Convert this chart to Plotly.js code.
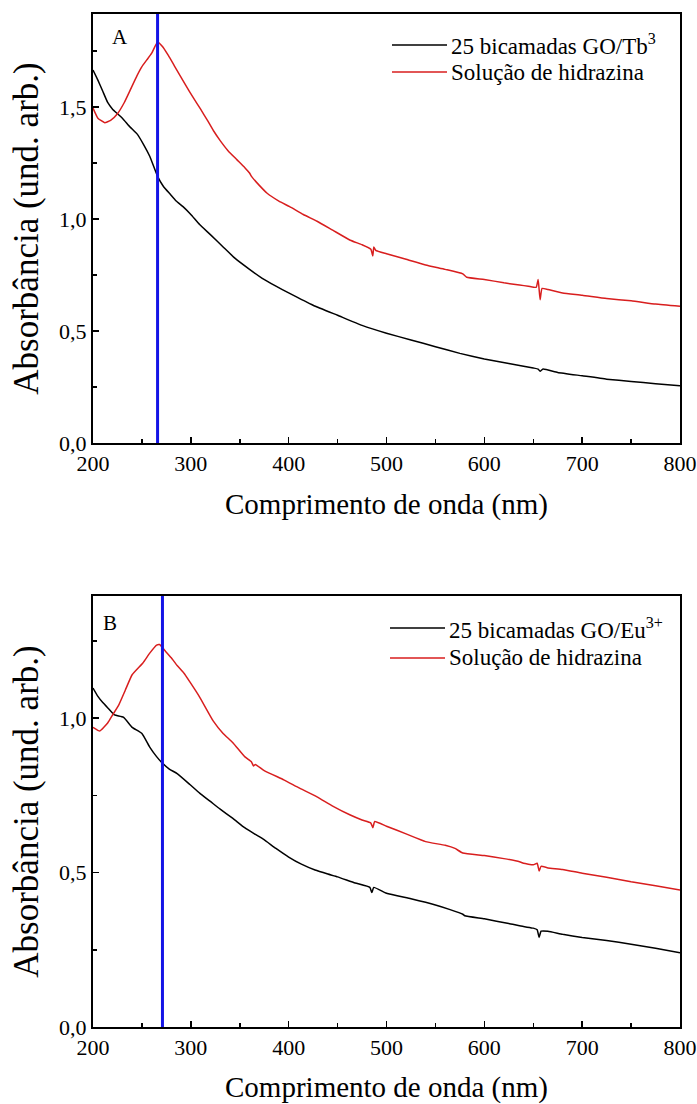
<!DOCTYPE html>
<html>
<head>
<meta charset="utf-8">
<script src="https://cdn.plot.ly/plotly-3.0.1.min.js"></script>
<style>html,body{margin:0;padding:0;background:#fff}#chart{width:697px;height:1104px}</style>
</head>
<body>
<div id="chart"></div>
<script>
// ---- Panel A: 25 bicamadas GO/Tb3 ----
const wlA_black = [200,205,210,215,220,225,230,238,245,252,258,266,272,279,285,292,300,309,320,333,345,360,373,387,400,425,450,475,500,525,550,575,600,625,650,655,657,660,675,700,725,750,775,800];
const absA_black = [1.665,1.62,1.57,1.52,1.49,1.47,1.45,1.41,1.38,1.33,1.28,1.19,1.145,1.11,1.08,1.055,1.02,0.975,0.93,0.875,0.825,0.775,0.735,0.70,0.67,0.615,0.57,0.525,0.49,0.46,0.43,0.40,0.375,0.355,0.335,0.33,0.32,0.33,0.315,0.30,0.285,0.275,0.265,0.255];
const wlA_red = [200,205,212,218,225,232,238,245,250,255,260,266,271,277,283,289,295,302,310,317,323,330,338,347,355,360,362,370,378,390,401,415,429,445,463,475,484,486,487,489,500,520,540,560,578,582,600,620,636,645,653,655,657,659,665,680,700,725,750,775,800];
const absA_red = [1.495,1.45,1.43,1.44,1.47,1.52,1.575,1.64,1.68,1.71,1.74,1.79,1.77,1.73,1.685,1.64,1.595,1.545,1.49,1.44,1.395,1.35,1.305,1.265,1.23,1.205,1.19,1.15,1.115,1.08,1.055,1.02,0.99,0.95,0.905,0.885,0.865,0.835,0.875,0.86,0.845,0.82,0.795,0.775,0.755,0.74,0.73,0.715,0.705,0.70,0.695,0.73,0.64,0.69,0.685,0.67,0.66,0.645,0.635,0.62,0.61];

// ---- Panel B: 25 bicamadas GO/Eu3+ ----
const wlB_black = [200,205,210,216,222,231,240,250,258,265,270,278,286,299,309,320,330,343,355,365,374,387,400,413,427,440,450,468,483,485,487,500,525,550,565,578,580,600,625,640,650,654,656,658,665,680,700,725,750,775,800];
const absB_black = [1.097,1.07,1.05,1.03,1.01,1.003,0.97,0.95,0.906,0.875,0.857,0.835,0.82,0.785,0.757,0.73,0.705,0.675,0.645,0.625,0.608,0.578,0.55,0.527,0.508,0.495,0.486,0.466,0.452,0.435,0.452,0.433,0.415,0.395,0.38,0.365,0.36,0.35,0.335,0.325,0.32,0.315,0.29,0.31,0.31,0.30,0.29,0.28,0.268,0.255,0.24];
const wlB_red = [200,207,215,220,226,233,240,251,258,265,268,273,280,286,293,299,309,323,333,343,355,362,364,366,375,395,410,429,445,463,475,484,486,488,500,520,540,560,570,578,600,620,636,640,650,654,656,658,665,680,700,725,750,775,800];
const absB_red = [0.97,0.958,0.984,1.01,1.04,1.09,1.14,1.178,1.21,1.236,1.238,1.22,1.195,1.17,1.145,1.117,1.068,0.99,0.95,0.92,0.875,0.858,0.845,0.85,0.83,0.80,0.775,0.745,0.715,0.686,0.67,0.66,0.645,0.665,0.65,0.625,0.60,0.588,0.578,0.563,0.555,0.545,0.535,0.53,0.525,0.53,0.505,0.52,0.515,0.51,0.498,0.485,0.47,0.457,0.443];

// vertical reference wavelengths (blue lines) for panels A and B
const markerWavelengths = [266, 271];

const panelLabels = ["A", "B"];
const legendNames = [
  ["25 bicamadas GO/Tb<sup>3</sup>", "Solução de hidrazina"],
  ["25 bicamadas GO/Eu<sup>3+</sup>", "Solução de hidrazina"]
];
const xTitle = "Comprimento de onda (nm)";
const yTitle = "Absorbância (und. arb.)";

const FONT = "'Liberation Serif', 'Times New Roman', serif";
const RED = "#d81e1e";
const BLUE = "#1414e6";

const lineStyle = (c) => ({color: c, width: 1.5, shape: "spline", smoothing: 0.4});
const traces = [
  {x: wlA_black, y: absA_black, xaxis: "x", yaxis: "y", mode: "lines", line: lineStyle("#000"), showlegend: false},
  {x: wlA_red, y: absA_red, xaxis: "x", yaxis: "y", mode: "lines", line: lineStyle(RED), showlegend: false},
  {x: wlB_black, y: absB_black, xaxis: "x2", yaxis: "y2", mode: "lines", line: lineStyle("#000"), showlegend: false},
  {x: wlB_red, y: absB_red, xaxis: "x2", yaxis: "y2", mode: "lines", line: lineStyle(RED), showlegend: false}
];

// plot geometry helpers (pixel -> paper)
const L = 93, R = 17, T = 14, B = 77, W = 697, H = 1104;
const pw = W - L - R, ph = H - T - B;
const px = v => (v - L) / pw;
const py = v => (H - B - v) / ph;

function xa(anchor) {
  return {
    anchor: anchor, range: [200, 800], tick0: 200, dtick: 100,
    ticks: "inside", ticklen: 6, tickwidth: 1.5, tickcolor: "#000",
    minor: {dtick: 50, ticks: "inside", ticklen: 4, tickwidth: 1.5, tickcolor: "#000"},
    showline: true, linewidth: 2, linecolor: "#000", mirror: true,
    showgrid: false, zeroline: false,
    tickfont: {family: FONT, size: 22, color: "#000"},
    title: {text: xTitle, font: {family: FONT, size: 29, color: "#000"}, standoff: 18}
  };
}
function ya(anchor, domain, top) {
  return {
    anchor: anchor, domain: domain, range: [0, top], tick0: 0, dtick: 0.5, tickformat: ".1f",
    ticks: "inside", ticklen: 6, tickwidth: 1.5, tickcolor: "#000",
    minor: {dtick: 0.25, ticks: "inside", ticklen: 4, tickwidth: 1.5, tickcolor: "#000"},
    showline: true, linewidth: 2, linecolor: "#000", mirror: true,
    showgrid: false, zeroline: false,
    tickfont: {family: FONT, size: 22, color: "#000"},
    title: {text: yTitle, font: {family: FONT, size: 35, color: "#000"}, standoff: 10}
  };
}

const shapes = [
  {type: "line", xref: "x", yref: "y domain", x0: markerWavelengths[0], x1: markerWavelengths[0], y0: 0, y1: 1, line: {color: BLUE, width: 3}},
  {type: "line", xref: "x2", yref: "y2 domain", x0: markerWavelengths[1], x1: markerWavelengths[1], y0: 0, y1: 1, line: {color: BLUE, width: 3}}
];
const annotations = [];
const legendRows = [[45, 72], [628, 658]];
const legendLineX = [[392, 447], [390, 445]];
const labelPos = [[120, 37], [110, 623]];
for (let p = 0; p < 2; p++) {
  const colors = ["#000", RED];
  for (let k = 0; k < 2; k++) {
    const yy = py(legendRows[p][k]);
    shapes.push({type: "line", xref: "paper", yref: "paper", x0: px(legendLineX[p][0]), x1: px(legendLineX[p][1]), y0: yy, y1: yy, line: {color: colors[k], width: 1.5}});
    annotations.push({xref: "paper", yref: "paper", x: px(legendLineX[p][1] + 2), y: yy, xanchor: "left", yanchor: "middle", showarrow: false, text: legendNames[p][k], font: {family: FONT, size: 23, color: "#000"}});
  }
  annotations.push({xref: "paper", yref: "paper", x: px(labelPos[p][0]), y: py(labelPos[p][1]), xanchor: "center", yanchor: "middle", showarrow: false, text: panelLabels[p], font: {family: FONT, size: 21, color: "#000"}});
}

const layout = {
  width: W, height: H,
  margin: {l: L, r: R, t: T, b: B},
  paper_bgcolor: "#fff", plot_bgcolor: "#fff",
  separators: ", ",
  showlegend: false,
  font: {family: FONT, color: "#000"},
  xaxis: xa("y"),
  yaxis: ya("x", [py(443), 1], 1.915),
  xaxis2: xa("y2"),
  yaxis2: ya("x2", [0, py(596)], 1.395),
  shapes: shapes,
  annotations: annotations
};

Plotly.newPlot("chart", traces, layout, {staticPlot: true, displayModeBar: false});
</script>
</body>
</html>
